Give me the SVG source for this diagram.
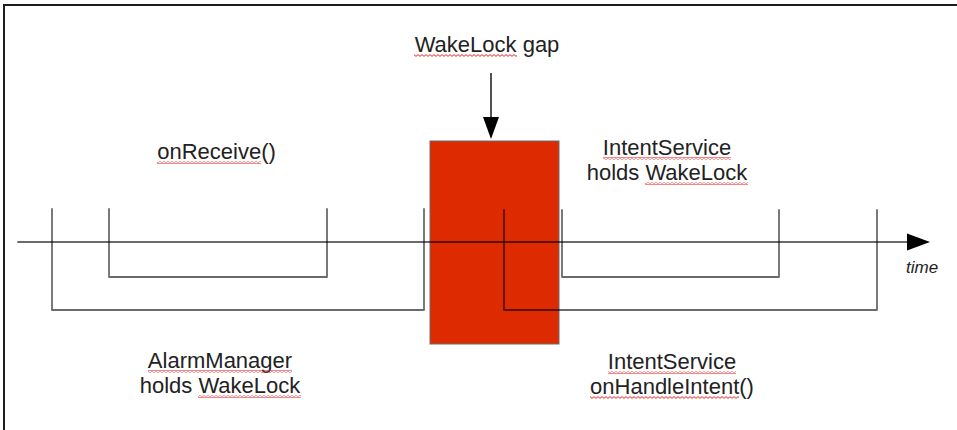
<svg xmlns="http://www.w3.org/2000/svg" width="957" height="430" viewBox="0 0 957 430">
  <style>
    .lbl { font-family: "Liberation Sans", Arial, sans-serif; font-size: 22px; fill: #222; text-anchor: middle; }
    .axislbl { font-family: "Liberation Sans", Arial, sans-serif; font-size: 17px; font-style: italic; fill: #222; }
    .wire { fill: none; stroke: #000; stroke-opacity: 0.58; stroke-width: 1.8; stroke-linejoin: round; stroke-linecap: round; }
    .spell { fill: url(#squiggle); }
  </style>
  <defs>
    <pattern id="squiggle" width="4" height="3" patternUnits="userSpaceOnUse">
      <path d="M0 2.4 L2 0.6 L4 2.4" fill="none" stroke="#ee2222" stroke-width="1"/>
    </pattern>
  </defs>

  <!-- frame -->
  <rect width="957" height="430" fill="#fff"/>
  <path d="M4 430 V5 H957" fill="none" stroke="#1e1e1e" stroke-width="2"/>

  <!-- gap block -->
  <g id="gap-block">
    <rect x="430" y="141" width="129" height="203" fill="#dd2a00" stroke="#6a6a6a" stroke-width="1"/>
  </g>

  <!-- connectors: time axis, brackets, pointer -->
  <g id="connectors">
    <path class="wire" d="M18 242 H910"/>
    <polygon points="907,233.5 930,242 907,250.5" fill="#000"/>
    <path class="wire" d="M52 209 V310 H424 V209"/>
    <path class="wire" d="M109 209 V277 H327 V209"/>
    <path class="wire" d="M562 210 V277 H779 V210"/>
    <path class="wire" d="M504 210 V310 H877 V210"/>
    <path d="M491 73 V120" stroke="#333" stroke-width="1.7" fill="none"/>
    <polygon points="483,117 499,117 491,139" fill="#000"/>
  </g>

  <g id="label-gap">
    <text class="lbl" x="487" y="52">WakeLock gap</text>
    <rect class="spell" x="414" y="54" width="103" height="3"/>
  </g>

  <g id="label-onreceive">
    <text class="lbl" x="216.5" y="159">onReceive()</text>
    <rect class="spell" x="157" y="161" width="104" height="3"/>
  </g>

  <g id="label-service-holds">
    <text class="lbl" x="667" y="155">IntentService</text>
    <text class="lbl" x="667" y="180">holds WakeLock</text>
    <rect class="spell" x="603" y="157" width="128" height="3"/>
    <rect class="spell" x="645" y="182" width="103" height="3"/>
  </g>

  <g id="label-alarm">
    <text class="lbl" x="220" y="368">AlarmManager</text>
    <text class="lbl" x="220" y="393">holds WakeLock</text>
    <rect class="spell" x="148" y="370" width="144" height="3"/>
    <rect class="spell" x="198" y="395" width="103" height="3"/>
  </g>

  <g id="label-handle">
    <text class="lbl" x="672" y="369">IntentService</text>
    <text class="lbl" x="672" y="394">onHandleIntent()</text>
    <rect class="spell" x="608" y="371" width="128" height="3"/>
    <rect class="spell" x="590" y="396" width="149" height="3"/>
  </g>

  <g id="label-time">
    <text class="axislbl" x="906" y="273">time</text>
  </g>
</svg>
